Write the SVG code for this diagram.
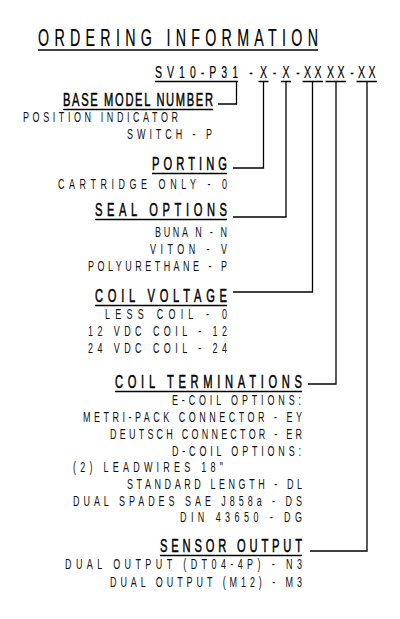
<svg xmlns="http://www.w3.org/2000/svg" width="400" height="619" viewBox="0 0 400 619">
<style>
text{font-family:"Liberation Sans","DejaVu Sans",sans-serif;fill:#000}
.t{font-size:23px;stroke:#000;stroke-width:0.2}
.c{font-size:17px;stroke:#000;stroke-width:0.2}
.h{font-size:18px;stroke:#000;stroke-width:0.5}
.s{font-size:14.5px;fill:#111}
.m{text-anchor:middle}
.u{stroke:#000;stroke-width:1.5;fill:none}
.w{stroke:#000;stroke-width:1.3;fill:none}
</style>
<rect width="400" height="619" fill="#fff"/>
<g id="title">
<text class="t" transform="scale(0.62,1)" x="61.29" y="46" textLength="451.61" lengthAdjust="spacing">ORDERING INFORMATION</text>
<line class="u" x1="38" y1="50" x2="318" y2="50"/>
</g>
<g id="code">
<text class="c" transform="scale(0.62,1)" x="250" y="78" textLength="133.87" lengthAdjust="spacing">SV10-P31</text>
<text class="c m" transform="scale(0.62,1)" x="404.84" y="78">-</text>
<text class="c m" transform="scale(0.62,1)" x="425" y="78">X</text>
<text class="c m" transform="scale(0.62,1)" x="442.74" y="78">-</text>
<text class="c m" transform="scale(0.62,1)" x="461.29" y="78">X</text>
<text class="c m" transform="scale(0.62,1)" x="480.65" y="78">-</text>
<text class="c m" transform="scale(0.62,1)" x="495.97" y="78">X</text>
<text class="c m" transform="scale(0.62,1)" x="512.90" y="78">X</text>
<text class="c m" transform="scale(0.62,1)" x="533.06" y="78">X</text>
<text class="c m" transform="scale(0.62,1)" x="550" y="78">X</text>
<text class="c m" transform="scale(0.62,1)" x="567.74" y="78">-</text>
<text class="c m" transform="scale(0.62,1)" x="583.06" y="78">X</text>
<text class="c m" transform="scale(0.62,1)" x="600" y="78">X</text>
<line class="u" x1="155" y1="81.5" x2="238" y2="81.5"/>
<line class="u" x1="258.5" y1="81.5" x2="268.5" y2="81.5"/>
<line class="u" x1="281" y1="81.5" x2="291" y2="81.5"/>
<line class="u" x1="302.5" y1="81.5" x2="323" y2="81.5"/>
<line class="u" x1="325.5" y1="81.5" x2="346" y2="81.5"/>
<line class="u" x1="356.5" y1="81.5" x2="377" y2="81.5"/>
</g>
<g id="base-model-number">
<text class="h" transform="scale(0.62,1)" x="101.61" y="106" textLength="241.94" lengthAdjust="spacing">BASE MODEL NUMBER</text>
<line class="u" x1="63" y1="109.5" x2="213" y2="109.5"/>
<text class="s" transform="scale(0.62,1)" x="37.10" y="122" textLength="250" lengthAdjust="spacing">POSITION INDICATOR</text>
<text class="s" transform="scale(0.62,1)" x="204.84" y="139" textLength="137.10" lengthAdjust="spacing">SWITCH - P</text>
</g>
<g id="porting">
<text class="h" transform="scale(0.62,1)" x="245.16" y="170" textLength="120.97" lengthAdjust="spacing">PORTING</text>
<line class="u" x1="152" y1="173.5" x2="227" y2="173.5"/>
<text class="s" transform="scale(0.62,1)" x="93.55" y="189" textLength="272.58" lengthAdjust="spacing">CARTRIDGE ONLY - 0</text>
</g>
<g id="seal-options">
<text class="h" transform="scale(0.62,1)" x="153.23" y="216" textLength="212.90" lengthAdjust="spacing">SEAL OPTIONS</text>
<line class="u" x1="95" y1="219.5" x2="227" y2="219.5"/>
<text class="s" transform="scale(0.62,1)" x="250" y="237" textLength="116.13" lengthAdjust="spacing">BUNA N - N</text>
<text class="s" transform="scale(0.62,1)" x="241.94" y="254" textLength="124.19" lengthAdjust="spacing">VITON - V</text>
<text class="s" transform="scale(0.62,1)" x="141.94" y="271" textLength="224.19" lengthAdjust="spacing">POLYURETHANE - P</text>
</g>
<g id="coil-voltage">
<text class="h" transform="scale(0.62,1)" x="153.23" y="302" textLength="212.90" lengthAdjust="spacing">COIL VOLTAGE</text>
<line class="u" x1="95" y1="305.5" x2="227" y2="305.5"/>
<text class="s" transform="scale(0.62,1)" x="169.35" y="319" textLength="196.77" lengthAdjust="spacing">LESS COIL -  0</text>
<text class="s" transform="scale(0.62,1)" x="141.94" y="336" textLength="224.19" lengthAdjust="spacing">12 VDC COIL - 12</text>
<text class="s" transform="scale(0.62,1)" x="141.94" y="353" textLength="224.19" lengthAdjust="spacing">24 VDC COIL - 24</text>
</g>
<g id="coil-terminations">
<text class="h" transform="scale(0.62,1)" x="185.48" y="388" textLength="301.61" lengthAdjust="spacing">COIL TERMINATIONS</text>
<line class="u" x1="115" y1="391.5" x2="302" y2="391.5"/>
<text class="s" transform="scale(0.62,1)" x="277.42" y="405" textLength="208.06" lengthAdjust="spacing">E-COIL OPTIONS:</text>
<text class="s" transform="scale(0.62,1)" x="133.87" y="422" textLength="353.23" lengthAdjust="spacing">METRI-PACK CONNECTOR - EY</text>
<text class="s" transform="scale(0.62,1)" x="177.42" y="439" textLength="309.68" lengthAdjust="spacing">DEUTSCH CONNECTOR - ER</text>
<text class="s" transform="scale(0.62,1)" x="277.42" y="456" textLength="208.06" lengthAdjust="spacing">D-COIL OPTIONS:</text>
<text class="s" transform="scale(0.62,1)" x="117.74" y="472" textLength="241.94" lengthAdjust="spacing">(2) LEADWIRES 18"</text>
<text class="s" transform="scale(0.62,1)" x="204.84" y="489" textLength="282.26" lengthAdjust="spacing">STANDARD LENGTH - DL</text>
<text class="s" transform="scale(0.62,1)" x="117.74" y="506" textLength="369.35" lengthAdjust="spacing">DUAL SPADES SAE J858a - DS</text>
<text class="s" transform="scale(0.62,1)" x="290.32" y="522" textLength="196.77" lengthAdjust="spacing">DIN 43650 - DG</text>
</g>
<g id="sensor-output">
<text class="h" transform="scale(0.62,1)" x="258.06" y="552" textLength="229.03" lengthAdjust="spacing">SENSOR OUTPUT</text>
<line class="u" x1="160" y1="555.5" x2="302" y2="555.5"/>
<text class="s" transform="scale(0.62,1)" x="104.84" y="569" textLength="382.26" lengthAdjust="spacing">DUAL OUTPUT (DT04-4P) - N3</text>
<text class="s" transform="scale(0.62,1)" x="177.42" y="587" textLength="309.68" lengthAdjust="spacing">DUAL OUTPUT (M12) - M3</text>
</g>
<g id="connectors">
<polyline class="w" points="218,104 236.5,104 236.5,82"/>
<polyline class="w" points="233,168 263.5,168 263.5,82"/>
<polyline class="w" points="233,217 286,217 286,82"/>
<polyline class="w" points="233,292 312.5,292 312.5,82"/>
<polyline class="w" points="308,384 336,384 336,82"/>
<polyline class="w" points="310,551 367,551 367,82"/>
</g>
</svg>
